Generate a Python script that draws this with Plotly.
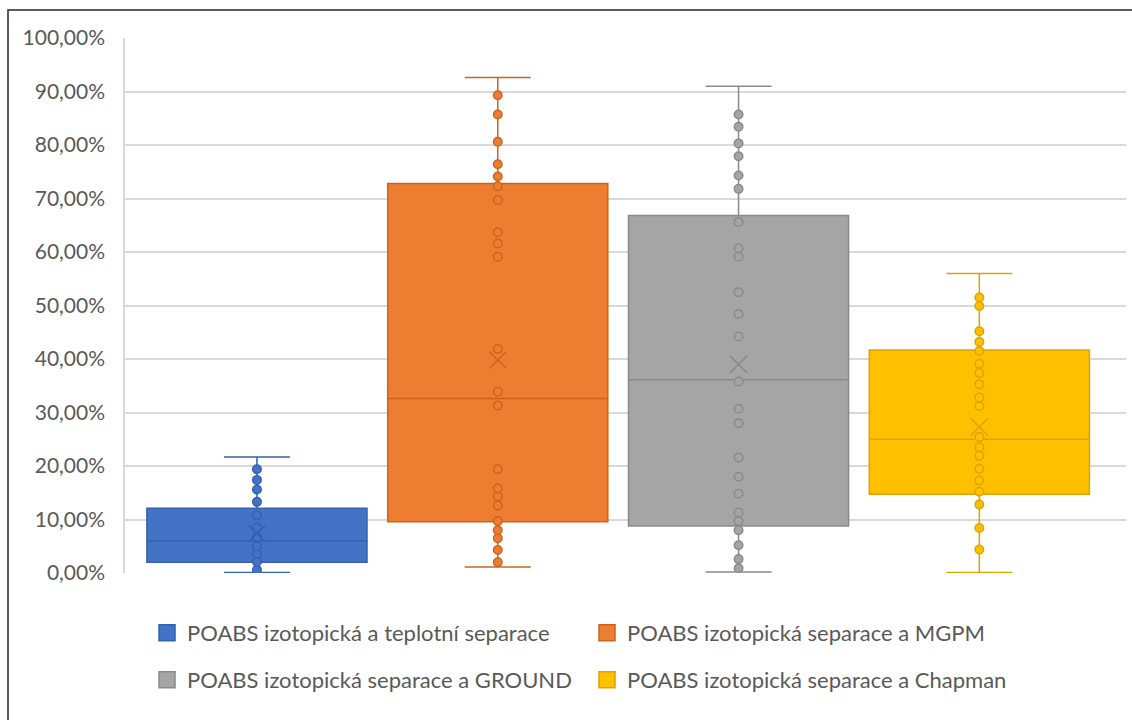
import numpy as np
import plotly.graph_objects as go

# Series names
names = [
    "POABS izotopická a teplotní separace",
    "POABS izotopická separace a MGPM",
    "POABS izotopická separace a GROUND",
    "POABS izotopická separace a Chapman",
]

# Box statistics (percent)
lower = [0.1, 1.1, 0.2, 0.1]
q1 = [2.0, 9.6, 8.8, 14.7]
median = [6.0, 32.6, 36.1, 25.0]
q3 = [12.1, 72.8, 66.8, 41.7]
upper = [21.7, 92.6, 91.0, 56.0]
mean = [7.4, 39.8, 39.0, 27.3]

# Inner points (percent)
pts_teplotni = [0.6, 2.1, 3.6, 5.0, 6.7, 8.5, 10.8, 13.3, 15.6, 17.4, 19.4]
pts_mgpm = [2.0, 4.3, 6.5, 8.0, 9.7, 12.6, 14.3, 15.8, 19.4, 31.3, 33.9, 41.9,
            59.1, 61.6, 63.7, 69.7, 72.3, 74.1, 76.4, 80.6, 85.7, 89.3]
pts_ground = [0.9, 2.6, 5.2, 8.0, 9.7, 11.3, 14.8, 18.0, 21.6, 28.0, 30.7, 35.8,
              44.2, 48.4, 52.5, 59.1, 60.7, 65.6, 71.8, 74.3, 77.9, 80.3, 83.4, 85.7]
pts_chapman = [4.4, 8.4, 12.8, 15.2, 17.3, 19.5, 21.9, 23.5, 25.4, 31.2, 32.8,
               35.3, 37.4, 39.1, 41.5, 43.2, 45.2, 49.9, 51.5]
points = [pts_teplotni, pts_mgpm, pts_ground, pts_chapman]

fills = ["#4472C4", "#ED7D31", "#A5A5A5", "#FFC000"]
edges = ["#3461B0", "#CC6420", "#8A8A8A", "#DBA500"]

yticks = [i / 10 for i in range(11)]

fig = go.Figure()

for i in range(4):
    fig.add_trace(go.Box(
        x=[i], q1=[q1[i] / 100], median=[median[i] / 100], q3=[q3[i] / 100],
        lowerfence=[lower[i] / 100], upperfence=[upper[i] / 100],
        width=0.914, whiskerwidth=0.3,
        fillcolor=fills[i], line=dict(color=edges[i], width=1.5),
        boxpoints=False, showlegend=False, hoverinfo="skip",
    ))
    fig.add_trace(go.Scatter(
        x=[i] * len(points[i]), y=np.array(points[i]) / 100, mode="markers",
        marker=dict(size=8.5, color=fills[i], line=dict(color=edges[i], width=1.5)),
        showlegend=False, hoverinfo="skip",
    ))
    fig.add_trace(go.Scatter(
        x=[i], y=[mean[i] / 100], mode="markers",
        marker=dict(symbol="x-thin-open", size=17, color=edges[i],
                    line=dict(color=edges[i], width=1.5)),
        showlegend=False, hoverinfo="skip",
    ))

# Legend entries: two rows of two
for i in range(4):
    fig.add_trace(go.Scatter(
        x=[None], y=[None], mode="markers", name=names[i],
        marker=dict(symbol="square", size=16, color=fills[i],
                    line=dict(color=edges[i], width=1.5)),
        legend="legend" if i < 2 else "legend2",
    ))

legend_style = dict(
    orientation="h", xanchor="left", yanchor="middle", x=0.022,
    entrywidth=395, entrywidthmode="pixels",
    font=dict(family="Lato", size=22, color="#595959"),
    bgcolor="rgba(0,0,0,0)",
)

fig.update_layout(
    width=1132, height=720,
    margin=dict(l=125, r=6, t=38, b=147),
    paper_bgcolor="white", plot_bgcolor="white",
    separators=", ",
    boxmode="overlay",
    xaxis=dict(range=[-0.548, 3.609], showgrid=False, zeroline=False,
               showticklabels=False, showline=False, fixedrange=True),
    yaxis=dict(range=[0, 1], tickvals=yticks, tickformat=".2%",
               showgrid=True, gridcolor="#D9D9D9", gridwidth=1.5,
               zeroline=False, showline=True, linecolor="#D9D9D9", linewidth=1.5,
               ticks="", ticklabelstandoff=14,
               tickfont=dict(family="Lato", size=21, color="#595959")),
    legend=dict(legend_style, y=(573 - 633) / 535),
    legend2=dict(legend_style, y=(573 - 680) / 535),
    shapes=[dict(type="rect", xref="paper", yref="paper",
                 x0=(8 - 125) / 1001, x1=1.02, y0=-0.3, y1=(573 - 10) / 535,
                 line=dict(color="#262626", width=1.5), fillcolor="rgba(0,0,0,0)",
                 layer="below")],
)

fig.write_html("out.html")
